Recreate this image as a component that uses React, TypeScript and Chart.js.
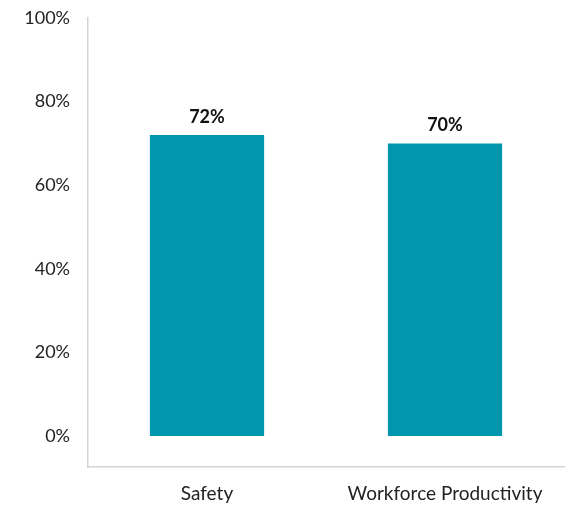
import React, { useEffect, useRef } from "react";
import { Chart, registerables } from "chart.js";

Chart.register(...registerables);

const categories = ["Safety", "Workforce Productivity"];
const values = [72, 70];
const tickValues = [0, 20, 40, 60, 80, 100];

const FONT = "Lato, 'Open Sans', sans-serif";

const dataLabels = {
  id: "dataLabels",
  afterDatasetsDraw(chart: any) {
    const ctx = chart.ctx;
    const meta = chart.getDatasetMeta(0);
    ctx.save();
    ctx.font = `bold 18px ${FONT}`;
    ctx.fillStyle = "#111111";
    ctx.textAlign = "center";
    ctx.textBaseline = "bottom";
    meta.data.forEach((bar: any, i: number) => {
      ctx.fillText(`${values[i]}%`, bar.x, bar.y - 9);
    });
    ctx.restore();
  },
};

export default function App() {
  const ref = useRef<HTMLCanvasElement>(null);
  useEffect(() => {
    const chart = new Chart(ref.current!, {
      type: "bar",
      data: {
        labels: categories,
        datasets: [
          {
            data: values,
            backgroundColor: "#0097AE",
            barPercentage: 0.48,
            categoryPercentage: 1,
          },
        ],
      },
      options: {
        animation: false,
        responsive: false,
        maintainAspectRatio: false,
        layout: { padding: { top: 18, right: 12, bottom: 0, left: 0 } },
        plugins: { legend: { display: false }, tooltip: { enabled: false } },
        scales: {
          x: {
            grid: { display: false, drawTicks: false },
            border: { display: true, color: "#d4d4d4", width: 1.5 },
            ticks: { color: "#222222", font: { family: FONT, size: 19 }, padding: 15, maxRotation: 0 },
            afterFit: (s: any) => {
              s.height = 45;
              s.paddingLeft = 0;
              s.paddingRight = 0;
            },
          },
          y: {
            min: -7.4,
            max: 100,
            grid: { display: false, drawTicks: false },
            border: { display: true, color: "#d4d4d4", width: 1.5 },
            ticks: {
              color: "#222222",
              font: { family: FONT, size: 18 },
              padding: 18,
              callback: (v: any) => `${v}%`,
            },
            afterBuildTicks: (s: any) => {
              s.ticks = tickValues.map((v) => ({ value: v }));
            },
            afterFit: (s: any) => {
              s.width = 88;
              s.paddingTop = 0;
              s.paddingBottom = 0;
            },
          },
        },
      },
      plugins: [dataLabels],
    });
    return () => chart.destroy();
  }, []);
  return (
    <div style={{ position: "fixed", left: 0, top: 0, width: 576, height: 512, background: "#fff" }}>
      <canvas ref={ref} width={576} height={512} style={{ width: 576, height: 512 }} />
    </div>
  );
}
